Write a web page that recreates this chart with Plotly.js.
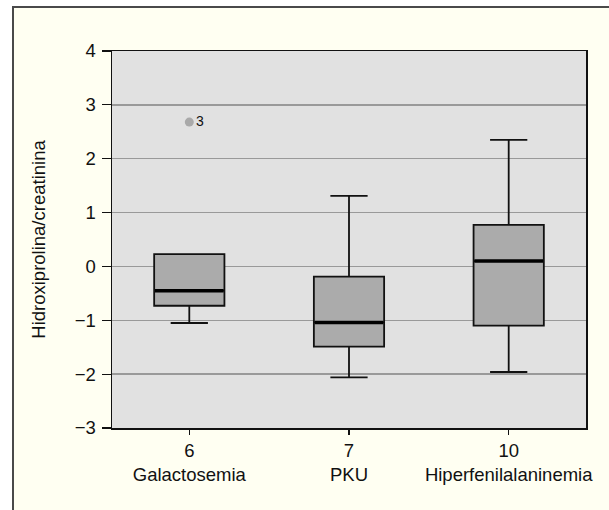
<!DOCTYPE html>
<html>
<head>
<meta charset="utf-8">
<script src="https://cdn.plot.ly/plotly-3.0.1.min.js"></script>
<style>
html, body { margin: 0; padding: 0; background: #ffffff; width: 609px; height: 510px; overflow: hidden; }
#frame { position: absolute; left: 12px; top: 6px; width: 597px; height: 504px; border-left: 2px solid #4a4a4a; border-top: 2px solid #4a4a4a; background: #fffff2; box-sizing: border-box; }
#chart { position: absolute; left: 0; top: 0; width: 595px; height: 502px; }
</style>
</head>
<body>
<div id="frame"><div id="chart"></div></div>
<script>
// Data
const categories = ['Galactosemia', 'PKU', 'Hiperfenilalaninemia'];
const groupSizes = ['6', '7', '10'];
const q1Values = [-0.73, -1.49, -1.10];
const medianValues = [-0.45, -1.04, 0.10];
const q3Values = [0.23, -0.19, 0.77];
const lowerWhisker = [-1.05, -2.06, -1.96];
const upperWhisker = [0.23, 1.31, 2.35];
const outlierCategory = ['Galactosemia'];
const outlierValues = [2.68];
const outlierLabels = ['3'];
const yTickValues = [-3, -2, -1, 0, 1, 2, 3, 4];

const tickText = categories.map((c, i) => groupSizes[i] + '<br>' + c);
const yTickText = yTickValues.map(v => v < 0 ? '\u2212' + Math.abs(v) : String(v));

const FONT = 'Liberation Sans, Arial, Helvetica, sans-serif';

const traces = [
  {
    type: 'box',
    x: categories,
    q1: q1Values,
    median: medianValues,
    q3: q3Values,
    lowerfence: lowerWhisker,
    upperfence: upperWhisker,
    width: 0.44,
    whiskerwidth: 0.53,
    fillcolor: '#ababab',
    line: { color: '#111111', width: 1.8 },
    boxpoints: false,
    hoverinfo: 'skip',
    showlegend: false
  },
  {
    type: 'scatter',
    mode: 'markers',
    x: categories,
    y: medianValues,
    marker: { symbol: 'line-ew', size: 49, line: { color: '#000000', width: 3.5 } },
    hoverinfo: 'skip',
    showlegend: false
  },
  {
    type: 'scatter',
    mode: 'markers+text',
    x: outlierCategory,
    y: outlierValues,
    text: outlierLabels,
    textposition: 'middle right',
    textfont: { family: FONT, size: 14, color: '#111111' },
    marker: { color: '#a9a9a9', size: 9 },
    hoverinfo: 'skip',
    showlegend: false
  }
];

const layout = {
  width: 595,
  height: 502,
  paper_bgcolor: '#fffff2',
  plot_bgcolor: '#e1e1e1',
  margin: { l: 97.5, r: 22.5, t: 43, b: 81.7 },
  font: { family: FONT, size: 18, color: '#111111' },
  showlegend: false,
  xaxis: {
    type: 'category',
    categoryorder: 'array',
    categoryarray: categories,
    range: [-0.484, 2.484],
    tickvals: categories,
    ticktext: tickText,
    ticks: 'outside',
    ticklen: 5,
    tickwidth: 1.2,
    tickcolor: '#111111',
    showline: true,
    linecolor: '#111111',
    linewidth: 1.5,
    mirror: true,
    showgrid: false,
    zeroline: false,
    tickfont: { family: FONT, size: 18.5, color: '#111111' }
  },
  yaxis: {
    range: [-3, 4],
    tickvals: yTickValues,
    ticktext: yTickText,
    ticks: 'outside',
    ticklen: 9,
    tickwidth: 1.2,
    tickcolor: '#111111',
    ticklabelstandoff: 2,
    showline: true,
    linecolor: '#111111',
    linewidth: 1.5,
    mirror: true,
    showgrid: true,
    gridcolor: '#999999',
    gridwidth: 1.5,
    zeroline: false,
    tickfont: { family: FONT, size: 18.5, color: '#111111' },
    title: { text: 'Hidroxiprolina/creatinina', font: { family: FONT, size: 18.5, color: '#111111' }, standoff: 24 }
  }
};

Plotly.newPlot('chart', traces, layout, { staticPlot: true, displayModeBar: false });
</script>
</body>
</html>
